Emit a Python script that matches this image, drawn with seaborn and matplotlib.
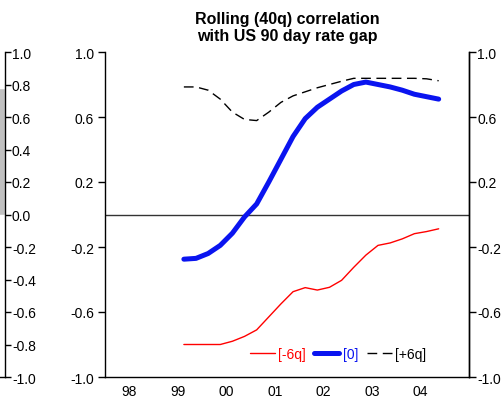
import numpy as np
import pandas as pd
import matplotlib
matplotlib.use("Agg")
import matplotlib.pyplot as plt
import seaborn as sns
from matplotlib.ticker import FixedLocator, NullFormatter, FixedFormatter

sns.set_style("white")
plt.rcParams['font.family'] = ['Liberation Sans', 'DejaVu Sans']
plt.rcParams['axes.unicode_minus'] = False
plt.rcParams['text.color'] = 'black'
plt.rcParams['xtick.color'] = 'black'
plt.rcParams['ytick.color'] = 'black'
plt.rcParams['axes.labelcolor'] = 'black'

# quarterly data, 1999Q3 .. 2004Q4 (points sit mid-quarter)
quarters = pd.period_range("1999Q3", "2004Q4", freq="Q")
lag_m6 = [-0.80, -0.80, -0.80, -0.80, -0.78, -0.75, -0.71, -0.63, -0.55, -0.475, -0.45,
          -0.465, -0.448, -0.405, -0.325, -0.25, -0.19, -0.175, -0.15, -0.118, -0.105, -0.088]
lag_0 = [-0.275, -0.27, -0.24, -0.19, -0.115, -0.015, 0.065, 0.20, 0.34, 0.48, 0.59,
         0.66, 0.71, 0.76, 0.80, 0.815, 0.80, 0.785, 0.765, 0.74, 0.725, 0.71]
lag_p6 = [0.785, 0.785, 0.765, 0.71, 0.63, 0.585, 0.578, 0.63, 0.69, 0.73, 0.755,
          0.78, 0.80, 0.82, 0.838, 0.838, 0.838, 0.838, 0.838, 0.838, 0.835, 0.823]

year_labels = ["98", "99", "00", "01", "02", "03", "04"]
yticks_main = [1.0, 0.6, 0.2, -0.2, -0.6, -1.0]
yticks_left = [1.0, 0.8, 0.6, 0.4, 0.2, 0.0, -0.2, -0.4, -0.6, -0.8, -1.0]

# neighbour chart sliver on the far left
left_bar = 0.78

df = pd.DataFrame({
    "t": [q.year + (q.quarter - 0.5) / 4 for q in quarters],
    "m6": lag_m6, "z": lag_0, "p6": lag_p6,
})

W, H = 504, 402
fig = plt.figure(figsize=(W / 100, H / 100), dpi=100)

def box(x0, y0, x1, y1):
    return [x0 / W, 1 - y1 / H, (x1 - x0) / W, (y1 - y0) / H]

# ---- leftover piece of the previous chart ----
ax0 = fig.add_axes(box(-20, 53, 5, 378))
ax0.bar([0.5], [left_bar], width=1.0, color="#c0c0c0")
ax0.set_xlim(0, 1)
ax0.set_ylim(-1, 1)
ax0.yaxis.tick_right()
ax0.set_yticks(yticks_left)
ax0.set_yticklabels([f"{v:.1f}" for v in yticks_left])
ax0.set_xticks([])
for s in ["left", "top"]:
    ax0.spines[s].set_visible(False)
for s in ["right", "bottom"]:
    ax0.spines[s].set_color("black")
    ax0.spines[s].set_linewidth(1)
ax0.tick_params(axis="y", direction="out", length=4, width=1, color="black",
                labelsize=10, pad=1)
ax0.patch.set_alpha(0)

# ---- main chart ----
ax = fig.add_axes(box(105, 53, 469, 378))
ax.axhline(0, color="#333333", lw=1, zorder=1)
sns.lineplot(data=df, x="t", y="m6", ax=ax, color="#ff0000", lw=1, label="[-6q]")
sns.lineplot(data=df, x="t", y="z", ax=ax, color="#0a14f0", lw=3.6, label="[0]")
sns.lineplot(data=df, x="t", y="p6", ax=ax, color="black", lw=1, label="[+6q]",
             dashes=False, linestyle=(0, (7, 4)))

ax.set_xlim(1998, 2005.5)
ax.set_ylim(-1, 1)
ax.set_xlabel("")
ax.set_ylabel("")
ax.xaxis.set_major_locator(FixedLocator(list(range(1998, 2006))))
ax.xaxis.set_major_formatter(NullFormatter())
ax.xaxis.set_minor_locator(FixedLocator([1998.5 + i for i in range(7)]))
ax.xaxis.set_minor_formatter(FixedFormatter(year_labels))
ax.tick_params(axis="x", which="major", direction="out", length=6, width=1, color="black")
ax.tick_params(axis="x", which="minor", length=0, labelsize=10, pad=5)
ax.set_yticks(yticks_main)
ax.set_yticklabels([f"{v:.1f}" for v in yticks_main])
ax.tick_params(axis="y", direction="out", length=5, width=1, color="black",
               labelsize=10, pad=3)
ax.spines["top"].set_visible(False)
for s in ["left", "right", "bottom"]:
    ax.spines[s].set_color("black")
    ax.spines[s].set_linewidth(1)

axr = ax.twinx()
axr.set_ylim(-1, 1)
axr.set_yticks(yticks_main)
axr.set_yticklabels([f"{v:.1f}" for v in yticks_main])
axr.tick_params(axis="y", direction="out", length=5, width=1, color="black",
                labelsize=10, pad=1)
for s in ["left", "top", "bottom"]:
    axr.spines[s].set_visible(False)
axr.spines["right"].set_color("black")
axr.spines["right"].set_linewidth(1)

leg = ax.legend(loc="center", bbox_to_anchor=(0.64, 0.072), ncol=3, frameon=False,
                fontsize=10, handlelength=1.8, handletextpad=0.25, columnspacing=0.6,
                borderaxespad=0)
for txt, c in zip(leg.get_texts(), ["#ff0000", "#0a14f0", "black"]):
    txt.set_color(c)

fig.text(287 / W, 1 - 28 / H, "Rolling (40q) correlation\nwith US 90 day rate gap",
         ha="center", va="center", fontsize=11.5, fontweight="bold", linespacing=1.12,
         color="black")

fig.savefig("out.png", dpi=100)
